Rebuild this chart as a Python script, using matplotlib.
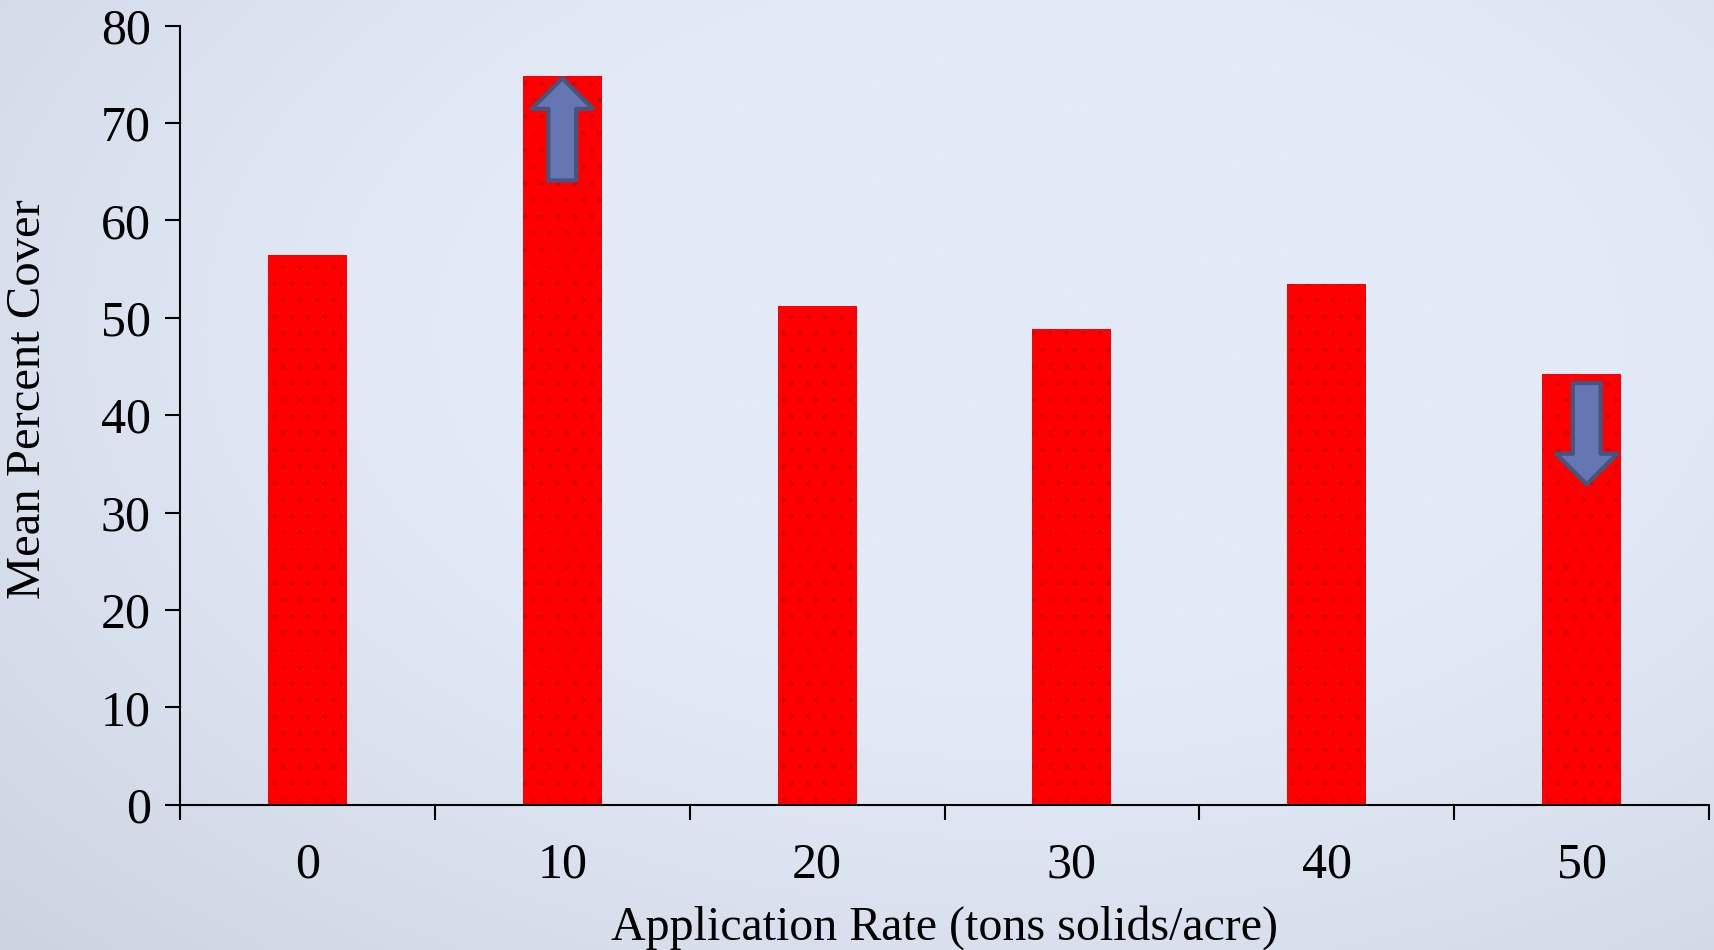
import numpy as np
import matplotlib.pyplot as plt
from matplotlib.patches import FancyArrowPatch

rates = ["0", "10", "20", "30", "40", "50"]
cover = [56.4, 74.8, 51.2, 48.8, 53.5, 44.2]
y_ticks = [0, 10, 20, 30, 40, 50, 60, 70, 80]

plt.rcParams["font.family"] = ["Liberation Serif", "DejaVu Serif"]
plt.rcParams["hatch.linewidth"] = 1.2

fig = plt.figure(figsize=(17.15, 9.5), dpi=100)

# background gradient, light blue in the middle/top, greyer at left and bottom-right
bg = fig.add_axes([0, 0, 1, 1], zorder=-10)
gx, gy = np.meshgrid(np.linspace(0, 1, 400), np.linspace(0, 1, 220))
r = np.sqrt(((gx - 0.6) * 1.0) ** 2 + ((gy - 0.35) * 0.9) ** 2)
light = np.array([226, 235, 247]) / 255
dark = np.array([203, 210, 224]) / 255
t = np.clip((r - 0.3) / 0.55, 0, 1)[..., None] ** 1.3
img = light * (1 - t) + dark * t
bg.imshow(img, aspect="auto", extent=[0, 1, 0, 1], origin="upper",
          interpolation="bilinear")
bg.axis("off")

ax = fig.add_axes([0.105, 0.153, 0.8915, 0.82])
ax.patch.set_alpha(0)
x = np.arange(len(rates))
bars = ax.bar(x, cover, width=0.31, color="#ff0000", edgecolor="#e00000",
              linewidth=0, hatch=".")

# arrows on the 10 and 50 bars
style = "simple,head_length=22,head_width=44,tail_width=20"
up = FancyArrowPatch((x[1], cover[1] - 10.7), (x[1], cover[1] - 0.2),
                     arrowstyle=style, mutation_scale=1, shrinkA=0, shrinkB=0,
                     facecolor="#6577b3", edgecolor="#44557f", linewidth=3, zorder=5)
down = FancyArrowPatch((x[5] + 0.02, cover[5] - 0.9), (x[5] + 0.02, cover[5] - 11.3),
                       arrowstyle=style, mutation_scale=1, shrinkA=0, shrinkB=0,
                       facecolor="#6577b3", edgecolor="#44557f", linewidth=3, zorder=5)
ax.add_patch(up)
ax.add_patch(down)

ax.set_xlim(-0.5, len(rates) - 0.5)
ax.set_ylim(0, 80)
ax.set_yticks(y_ticks)
ax.set_xticks(np.arange(-0.5, len(rates), 1.0))
ax.set_xticklabels([])
ax.set_xticks(x, minor=True)
ax.set_xticklabels(rates, minor=True)
ax.tick_params(axis="x", which="major", length=11, width=1.5, direction="out")
ax.tick_params(axis="x", which="minor", length=0, pad=27, labelsize=36)
ax.tick_params(axis="y", length=11, width=1.5, direction="out", labelsize=36, pad=10)
for s in ["top", "right"]:
    ax.spines[s].set_visible(False)
for s in ["left", "bottom"]:
    ax.spines[s].set_linewidth(1.5)

ax.set_xlabel("Application Rate (tons solids/acre)", fontsize=34.5, labelpad=12)
ax.set_ylabel("Mean Percent Cover", fontsize=35)
ax.yaxis.set_label_coords(-0.085, 0.521)

fig.savefig("out.png", dpi=100)
